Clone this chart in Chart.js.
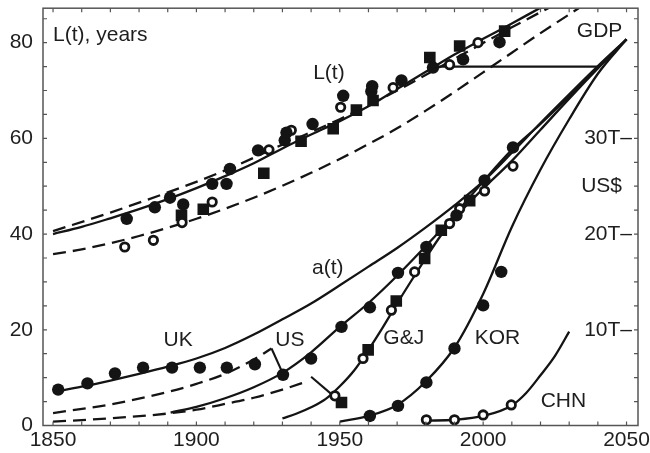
<!DOCTYPE html>
<html>
<head>
<meta charset="utf-8">
<script src="https://cdn.jsdelivr.net/npm/chart.js@4.4.1/dist/chart.umd.min.js"></script>
<style>
  html, body { margin: 0; padding: 0; background: #fff; }
  #wrap { width: 650px; height: 453px; }
</style>
</head>
<body>
<div id="wrap"><canvas id="lifeChart" width="650" height="453"></canvas></div>
<script>
// Life expectancy L(t) and GDP curves (UK, US, G&J, KOR, CHN), 1850-2050

// axes
const xLabelYears = [1850, 1900, 1950, 2000, 2050];
const xMinorYears = [1850, 1860, 1870, 1880, 1890, 1900, 1910, 1920, 1930, 1940, 1950,
  1960, 1970, 1980, 1990, 2000, 2010, 2020, 2030, 2040, 2050];
const yLabelValues = [0, 20, 40, 60, 80];
const yMinorValues = [0, 5, 10, 15, 20, 25, 30, 35, 40, 45, 50, 55, 60, 65, 70, 75, 80, 85];
const gdpTickValues = [20, 40, 60];
const gdpTickLabels = ['10T–', '20T–', '30T–'];

// L(t) model curves
const lSolidYears = [1850, 1860, 1870, 1880, 1890, 1900, 1910, 1920, 1930, 1940, 1950, 1960, 1970, 1980, 1990, 2000, 2010, 2020, 2030];
const lSolidVals  = [40, 41.5, 43.3, 45.2, 47.3, 49.6, 52.1, 54.8, 57.9, 60.8, 63.6, 66.7, 70.3, 73.9, 77.5, 80.8, 84, 87.3, 90.5];
const lDashHiYears = [1850, 1870, 1890, 1910, 1930, 1950, 1970, 1990, 2010, 2030];
const lDashHiVals  = [40.6, 44.5, 48.7, 53.3, 58.7, 64, 70, 76.6, 83.2, 89.5];
const lDashLoYears = [1850, 1860, 1870, 1880, 1890, 1900, 1910, 1920, 1930, 1940, 1950, 1960, 1970, 1980, 1990, 2000, 2010, 2020, 2030, 2040];
const lDashLoVals  = [35.8, 36.8, 38.1, 39.6, 41.3, 43.2, 45.3, 47.6, 50.1, 52.8, 55.7, 58.8, 62.1, 65.8, 69.7, 73.8, 77.9, 82, 85.9, 89.8];
const levelYears = [1982.5, 2040];
const levelVals  = [75, 75];

// L(t) observations
const lFilledYears = [1875.7, 1885.5, 1890.8, 1895.4, 1905.5, 1910.5, 1911.7, 1921.5, 1930.8, 1931.4, 1940.5, 1951.2, 1961, 1961.3, 1971.5, 1982.5, 1993, 2005.7];
const lFilledVals  = [43.2, 45.6, 47.6, 46.2, 50.5, 50.5, 53.6, 57.5, 59.6, 61.2, 63, 68.9, 69.8, 70.9, 72.1, 74.8, 76.5, 80.1];
const lOpenYears = [1875, 1885, 1895, 1905.5, 1925.3, 1933.1, 1950.3, 1968.6, 1988.3, 1998.2];
const lOpenVals  = [37.3, 38.7, 42.4, 46.7, 57.6, 61.7, 66.5, 70.6, 75.4, 80];
const lSquareYears = [1894.8, 1902.4, 1923.5, 1936.5, 1947.7, 1955.8, 1961.6, 1981.4, 1991.8, 2007.5];
const lSquareVals  = [43.9, 45.2, 52.7, 59.4, 62, 65.9, 67.9, 76.9, 79.3, 82.4];

// GDP model curves (right axis, 10T per 20 units)
const aYears = [1850, 1860, 1870, 1880, 1890, 1900, 1910, 1920, 1930, 1940, 1950, 1960, 1970, 1980, 1990, 2000, 2010, 2020, 2030, 2040, 2050];
const aVals  = [7, 8.1, 9.4, 10.8, 12.3, 14, 16.2, 19, 22.2, 25.5, 29.3, 33.2, 37.1, 41.4, 46, 51, 57, 63.2, 69.2, 75.1, 80.7];
const usYears = [1891, 1900, 1910, 1920, 1930, 1940, 1950, 1960, 1970, 1980, 1990, 2000, 2010, 2020, 2030, 2040, 2050];
const usVals  = [2.7, 3.9, 5.7, 8, 11, 15.3, 20.6, 25.6, 31.3, 37.5, 44, 51, 57.6, 63, 68.8, 74.8, 80.7];
const gjYears = [1930, 1935, 1940, 1945, 1950, 1955, 1960, 1965, 1970, 1975, 1980, 1985, 1990, 1995, 2000, 2010, 2020, 2030, 2040, 2050];
const gjVals  = [1.5, 2.5, 3.8, 5.5, 8.2, 11.5, 15.8, 20.5, 25.5, 30.3, 35, 39.5, 43.3, 46.5, 49.5, 55.3, 61.8, 68.3, 74.6, 80.7];
const korYears = [1950, 1960, 1970, 1980, 1990, 2000, 2010, 2020, 2030, 2040, 2050];
const korVals  = [0.8, 2, 4.3, 9.2, 16.3, 27.5, 41.5, 53.5, 64, 73.5, 80.7];
const chnYears = [1980, 1990, 2000, 2010, 2015, 2020, 2025, 2030];
const chnVals  = [1, 1.2, 2, 4.2, 6.8, 10.5, 14.5, 19.6];
const ukDashYears = [1850, 1870, 1890, 1900, 1910, 1920, 1926.2];
const ukDashVals  = [2.6, 4.4, 7, 8.7, 10.8, 13.8, 16.1];
const ukLinkYears = [1926.2, 1929.8];
const ukLinkVals  = [16.1, 11.3];
const usDashYears = [1850, 1870, 1890, 1900, 1910, 1920, 1930, 1939];
const usDashVals  = [0.8, 1.5, 2.5, 3.3, 4.5, 5.8, 7.5, 9.3];
const usLinkYears = [1940, 1947.6];
const usLinkVals  = [10.2, 6.3];

// GDP observations
const gdpFilledYears = [1851.8, 1862, 1871.6, 1881.4, 1891.5, 1901.2, 1910.6, 1920.4, 1930.2, 1940, 1950.6, 1960.5, 1970.3, 1980.2, 1990.7, 2000.5, 2010.4];
const gdpFilledVals  = [7.5, 8.8, 10.9, 12.1, 12.1, 12.1, 12.1, 12.8, 10.6, 14, 20.6, 24.7, 31.9, 37.3, 43.9, 51.2, 58.1];
const gjOpenYears = [1948.3, 1958.1, 1968, 1976.1, 1988.3, 1991.8, 2000.5, 2010.4];
const gjOpenVals  = [6.2, 14, 24.1, 32.1, 42.2, 45.3, 49, 54.2];
const gjSquareYears = [1950.6, 1959.9, 1969.7, 1979.6, 1985.4, 1995.3];
const gjSquareVals  = [4.8, 15.8, 26, 34.9, 40.8, 47];
const korDotYears = [1960.5, 1970.3, 1980.2, 1990, 2000, 2006.3];
const korDotVals  = [2, 4.1, 9, 16.1, 25.1, 32.1];
const chnDotYears = [1980.2, 1990, 2000, 2009.8];
const chnDotVals  = [1.2, 1.2, 2.2, 4.3];

// text labels, anchored in data units
const notes = [
  { text: 'L(t), years', x: 1850, y: 81.6, align: 'left' },
  { text: 'L(t)', x: 1946.2, y: 73.7, align: 'center' },
  { text: 'a(t)', x: 1945.8, y: 32.9, align: 'center' },
  { text: 'UK', x: 1893.6, y: 17.9, align: 'center' },
  { text: 'US', x: 1932.6, y: 17.9, align: 'center' },
  { text: 'G&J', x: 1972.3, y: 18.3, align: 'center' },
  { text: 'KOR', x: 2005, y: 18.3, align: 'center' },
  { text: 'CHN', x: 2028, y: 5.1, align: 'center' },
  { text: 'GDP', x: 2040.6, y: 82.3, align: 'center' },
  { text: 'US$', x: 2041.3, y: 49.9, align: 'center' }
];

const INK = '#141414';
const FONT = '"Liberation Sans", Arial, Helvetica, sans-serif';

const pts = (xs, ys) => xs.map((x, i) => ({ x, y: ys[i] }));

const curve = (xs, ys, dashed) => ({
  data: pts(xs, ys),
  showLine: true,
  borderColor: INK,
  borderWidth: 2.3,
  borderDash: dashed ? [13, 7] : [],
  pointRadius: 0,
  cubicInterpolationMode: 'monotone',
  fill: false
});
const segment = (xs, ys) => ({
  data: pts(xs, ys),
  showLine: true,
  borderColor: INK,
  borderWidth: 2.1,
  pointRadius: 0,
  tension: 0,
  fill: false
});
const filled = (xs, ys) => ({
  data: pts(xs, ys), showLine: false, pointStyle: 'circle',
  pointRadius: 6.2, pointBackgroundColor: INK, pointBorderColor: INK, pointBorderWidth: 0
});
const hollow = (xs, ys) => ({
  data: pts(xs, ys), showLine: false, pointStyle: 'circle',
  pointRadius: 4.2, pointBackgroundColor: '#fff', pointBorderColor: INK, pointBorderWidth: 2.8
});
const square = (xs, ys) => ({
  data: pts(xs, ys), showLine: false, pointStyle: 'rect',
  pointRadius: 8.2, pointBackgroundColor: INK, pointBorderColor: INK, pointBorderWidth: 0
});

// pin the axis boxes so the plot area sits where the original frame is
const fixBox = size => s => {
  s.paddingLeft = 0; s.paddingRight = 0; s.paddingTop = 0; s.paddingBottom = 0;
  if (s.isHorizontal()) s.height = size; else s.width = size;
};

const framePlugin = {
  id: 'frame',
  afterDatasetsDraw(chart) {
    const { ctx, chartArea: a, scales: { x, y } } = chart;
    ctx.save();
    ctx.strokeStyle = '#555';
    ctx.lineWidth = 1.5;
    ctx.strokeRect(a.left, a.top, a.right - a.left, a.bottom - a.top);

    // inward tick marks on all four sides
    ctx.lineWidth = 1.2;
    ctx.beginPath();
    xMinorYears.forEach(v => {
      const px = x.getPixelForValue(v);
      ctx.moveTo(px, a.bottom); ctx.lineTo(px, a.bottom - 4);
      ctx.moveTo(px, a.top); ctx.lineTo(px, a.top + 4);
    });
    yMinorValues.forEach(v => {
      const py = y.getPixelForValue(v);
      ctx.moveTo(a.left, py); ctx.lineTo(a.left + 4, py);
      ctx.moveTo(a.right, py); ctx.lineTo(a.right - 4, py);
    });
    ctx.stroke();

    ctx.font = '21px ' + FONT;
    ctx.fillStyle = '#1e1e1e';
    ctx.textBaseline = 'middle';
    notes.forEach(n => {
      ctx.textAlign = n.align;
      ctx.fillText(n.text, x.getPixelForValue(n.x), y.getPixelForValue(n.y));
    });
    ctx.restore();
  }
};

Chart.defaults.font.family = FONT;
Chart.defaults.font.size = 21;
Chart.defaults.color = '#1e1e1e';

new Chart(document.getElementById('lifeChart'), {
  type: 'scatter',
  data: {
    datasets: [
      filled(lFilledYears, lFilledVals),
      hollow(lOpenYears, lOpenVals),
      square(lSquareYears, lSquareVals),
      filled(gdpFilledYears, gdpFilledVals),
      hollow(gjOpenYears, gjOpenVals),
      square(gjSquareYears, gjSquareVals),
      filled(korDotYears, korDotVals),
      hollow(chnDotYears, chnDotVals),
      curve(lSolidYears, lSolidVals, false),
      curve(lDashHiYears, lDashHiVals, true),
      curve(lDashLoYears, lDashLoVals, true),
      segment(levelYears, levelVals),
      curve(aYears, aVals, false),
      curve(usYears, usVals, false),
      curve(gjYears, gjVals, false),
      curve(korYears, korVals, false),
      curve(chnYears, chnVals, false),
      curve(ukDashYears, ukDashVals, true),
      segment(ukLinkYears, ukLinkVals),
      curve(usDashYears, usDashVals, true),
      segment(usLinkYears, usLinkVals)
    ]
  },
  options: {
    responsive: false,
    animation: false,
    devicePixelRatio: 1,
    layout: { padding: { left: 9.6, right: 12, top: 7, bottom: 0 } },
    plugins: { legend: { display: false }, tooltip: { enabled: false } },
    scales: {
      x: {
        type: 'linear',
        min: 1846.5,
        max: 2054,
        afterBuildTicks: s => { s.ticks = xLabelYears.map(v => ({ value: v })); },
        afterFit: fixBox(27.5),
        ticks: { callback: v => String(v), padding: 2, maxRotation: 0, autoSkip: false },
        grid: { display: false, drawTicks: false, tickLength: 0 },
        border: { display: false }
      },
      y: {
        type: 'linear',
        min: 0,
        max: 87.2,
        afterBuildTicks: s => { s.ticks = yLabelValues.map(v => ({ value: v })); },
        afterFit: fixBox(33.4),
        ticks: { callback: v => String(v), padding: 10 },
        grid: { display: false, drawTicks: false, tickLength: 0 },
        border: { display: false }
      },
      y2: {
        type: 'linear',
        position: 'right',
        min: 0,
        max: 87.2,
        afterBuildTicks: s => { s.ticks = gdpTickValues.map(v => ({ value: v })); },
        afterFit: fixBox(0),
        ticks: {
          mirror: true,
          padding: -6,
          callback: v => gdpTickLabels[gdpTickValues.indexOf(v)]
        },
        grid: { display: false, drawTicks: false, tickLength: 0 },
        border: { display: false }
      }
    }
  },
  plugins: [framePlugin]
});
</script>
</body>
</html>
